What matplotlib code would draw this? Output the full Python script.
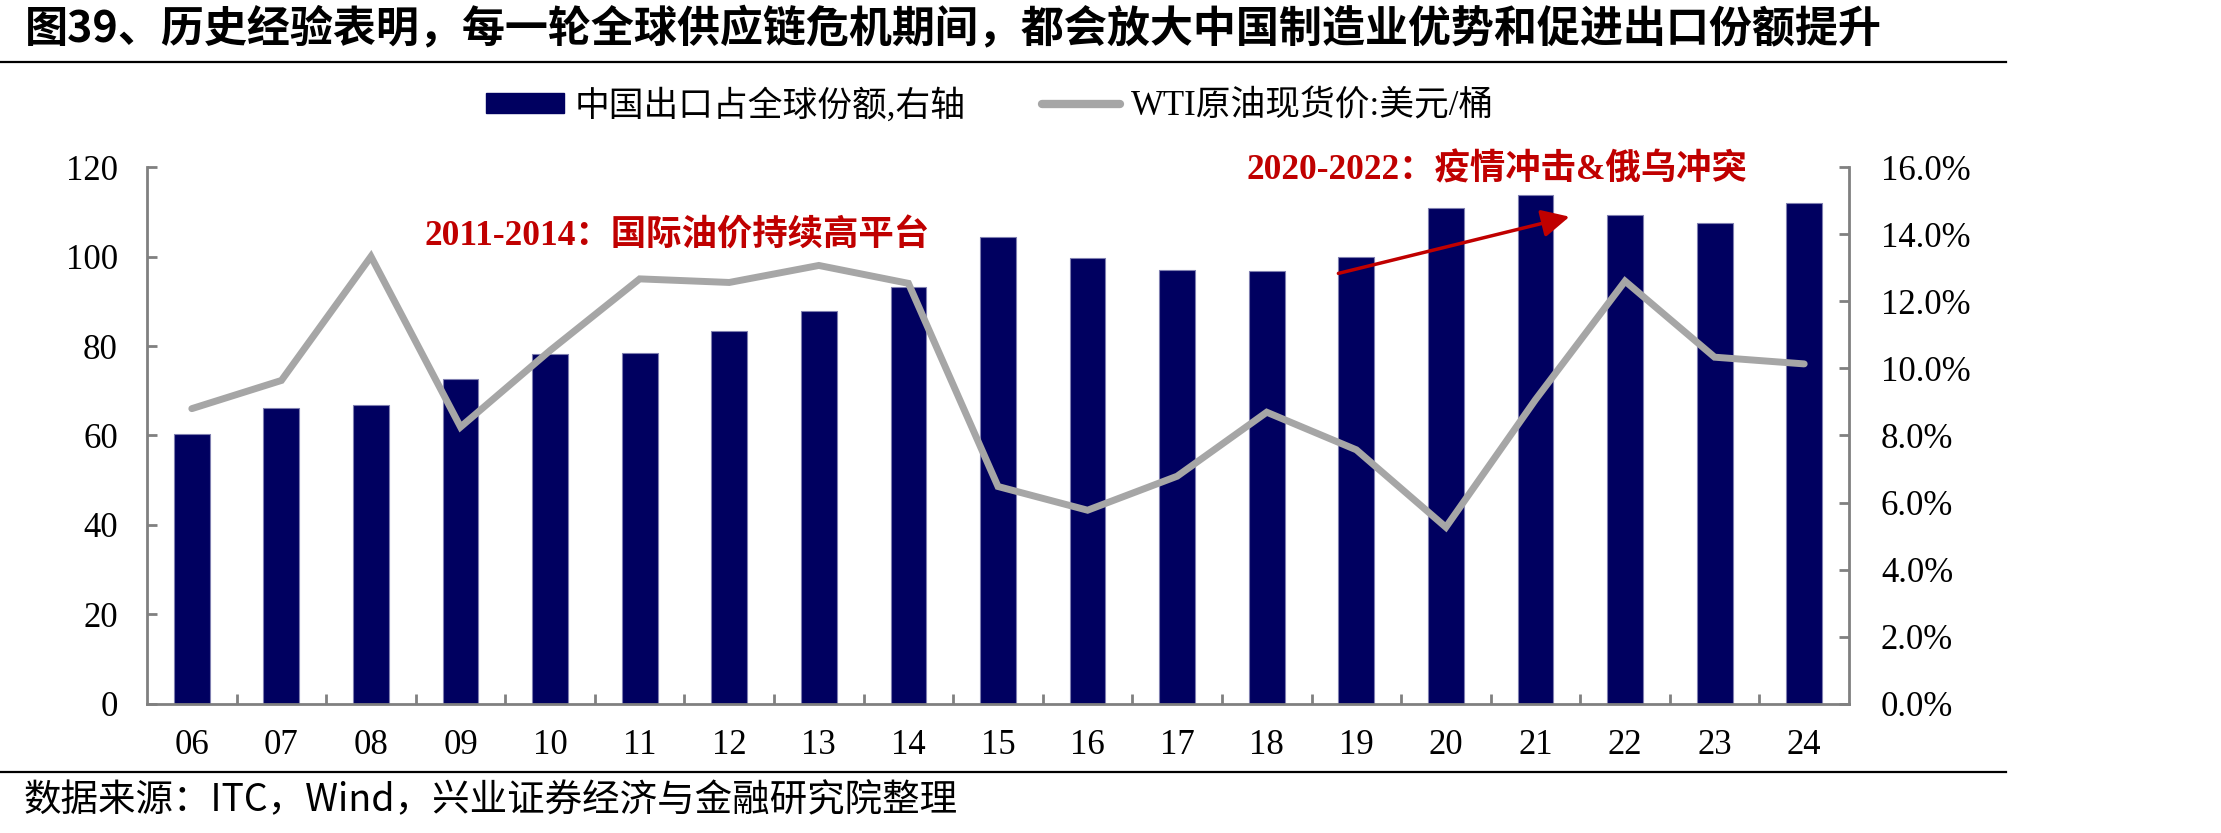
import matplotlib
matplotlib.use("Agg")
import matplotlib.pyplot as plt
from matplotlib.lines import Line2D
from matplotlib.patches import Patch
from matplotlib.ticker import FuncFormatter, FixedLocator

plt.rcParams['font.family'] = ['Liberation Serif', 'Noto Sans CJK SC']
plt.rcParams['axes.unicode_minus'] = False

# 数据
years = ['06', '07', '08', '09', '10', '11', '12', '13', '14', '15',
         '16', '17', '18', '19', '20', '21', '22', '23', '24']
# 中国出口占全球份额（右轴，%）
share = [8.05, 8.81, 8.90, 9.68, 10.44, 10.46, 11.12, 11.70, 12.43, 13.90,
         13.28, 12.94, 12.91, 13.31, 14.79, 15.17, 14.56, 14.34, 14.94]
# WTI原油现货价（左轴，美元/桶）
wti = [66.0, 72.3, 100.0, 61.9, 79.0, 95.0, 94.2, 98.0, 94.0, 48.6,
       43.3, 50.9, 65.2, 56.8, 39.5, 68.0, 94.5, 77.5, 76.0]

bar_color = '#000060'
line_color = '#A6A6A6'
red = '#C00000'
spine_gray = '#808080'

fig = plt.figure(figsize=(22.21, 8.33), dpi=100)
ax = fig.add_axes([0.0662, 0.1549, 0.7663, 0.6446])
ax2 = ax.twinx()

x = list(range(len(years)))

# 柱：右轴
ax2.bar(x, [s / 100 for s in share], width=0.4, color=bar_color,
        edgecolor='#7F7FB0', linewidth=0.8)
ax2.set_ylim(0, 0.16)
ax2.yaxis.set_major_locator(FixedLocator([i * 0.02 for i in range(9)]))
ax2.yaxis.set_major_formatter(FuncFormatter(lambda v, p: f'{v * 100:.1f}%'))

# 线：左轴，放到柱子上层
ax.set_zorder(ax2.get_zorder() + 1)
ax.patch.set_visible(False)
ax.plot(x, wti, color=line_color, linewidth=5, solid_capstyle='round',
        solid_joinstyle='miter')
ax.set_ylim(0, 120)
ax.set_yticks(range(0, 121, 20))
ax.set_xlim(-0.5, len(years) - 0.5)
ax.set_xticks(x)
ax.set_xticklabels(years)
ax.set_xticks([i + 0.5 for i in range(len(years) - 1)], minor=True)

for a in (ax, ax2):
    a.spines['top'].set_visible(False)
    for s in a.spines.values():
        s.set_color(spine_gray)
        s.set_linewidth(2.0)
ax.spines['right'].set_visible(False)
ax2.spines['left'].set_visible(False)
ax2.spines['bottom'].set_visible(False)

ax.tick_params(axis='y', direction='in', length=7, width=2, color=spine_gray,
               labelsize=25, pad=21)
ax2.tick_params(axis='y', direction='in', length=7, width=2, color=spine_gray,
                labelsize=25, pad=23)
ax.tick_params(axis='x', which='major', length=0, labelsize=25, pad=18)
ax.tick_params(axis='x', which='minor', direction='in', length=7, width=2,
               color=spine_gray)

# 标注
ax.text(2.6, 104.5, '2011-2014：国际油价持续高平台', color=red, fontsize=25.5,
        fontweight='bold', ha='left', va='center')
ax.text(11.77, 119.3, '2020-2022：疫情冲击&俄乌冲突', color=red, fontsize=25.5,
        fontweight='bold', ha='left', va='center')
ax.annotate('', xy=(15.38, 14.52 * 7.5), xytext=(12.8, 12.83 * 7.5),
            arrowprops=dict(arrowstyle='-|>,head_length=0.6,head_width=0.3',
                            color=red, lw=2.5, mutation_scale=28,
                            shrinkA=0, shrinkB=0))

# 图例
handles = [Patch(facecolor=bar_color, edgecolor=bar_color),
           Line2D([0], [0], color=line_color, linewidth=6, solid_capstyle='round')]
labels = ['中国出口占全球份额,右轴', 'WTI原油现货价:美元/桶']
fig.legend(handles, labels, loc='center left', bbox_to_anchor=(0.2188, 0.8727),
           ncol=2, frameon=False, fontsize=25, handlelength=2.25, handleheight=0.5,
           handletextpad=0.3, columnspacing=2.2, borderpad=0, borderaxespad=0)

# 标题、分隔线与来源
fig.text(0.0113, 0.966, '图39、历史经验表明，每一轮全球供应链危机期间，都会放大中国制造业优势和促进出口份额提升',
         family='Noto Sans CJK SC', fontweight='bold', fontsize=31, ha='left', va='center')
fig.add_artist(Line2D([0, 0.903], [1 - 62 / 833, 1 - 62 / 833], color='black', lw=1.6))
fig.add_artist(Line2D([0, 0.903], [1 - 772 / 833, 1 - 772 / 833], color='black', lw=1.6))
fig.text(0.0108, 1 - 801 / 833, '数据来源：ITC，Wind，兴业证券经济与金融研究院整理',
         family='Noto Sans CJK SC', fontsize=27, ha='left', va='center')

fig.savefig('out.png', dpi=100)
